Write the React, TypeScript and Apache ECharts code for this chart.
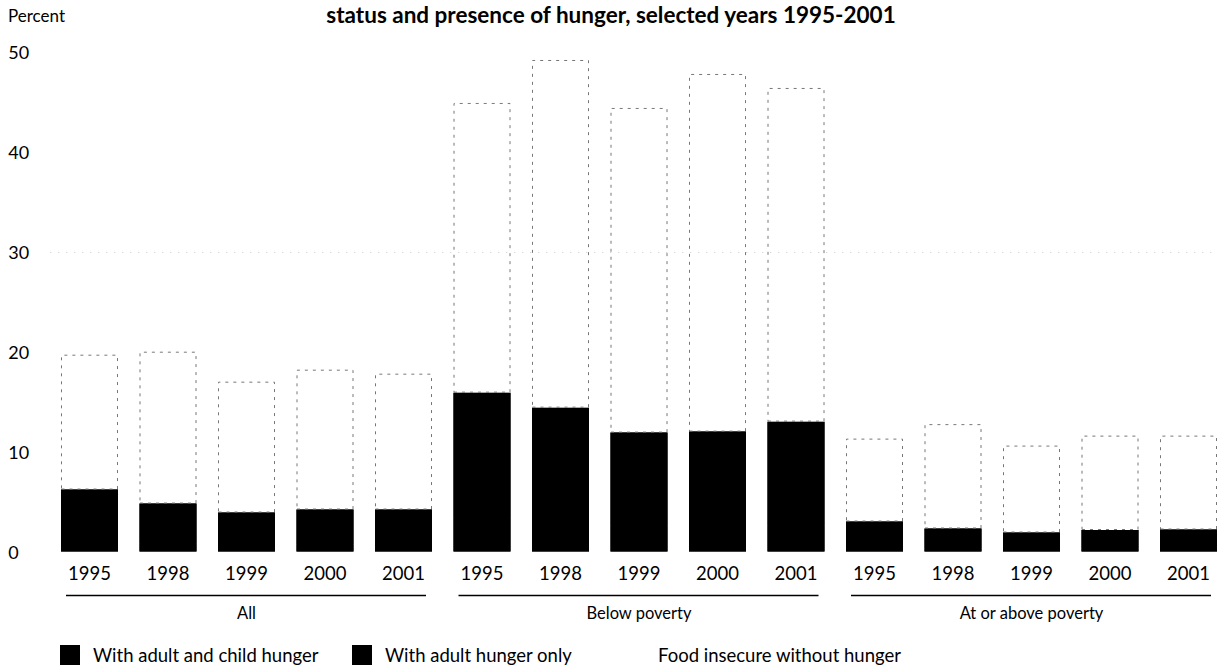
import React, { useEffect, useRef } from "react";
import * as echarts from "echarts";

const groups = ["All", "Below poverty", "At or above poverty"];
const years = ["1995", "1998", "1999", "2000", "2001"];

// Percent of households with children
// black segments: adult and child hunger + adult hunger only (indistinguishable in the scan)
const adultChildHunger = [0.9, 0.8, 0.6, 0.7, 0.6, 3.4, 3.2, 2.6, 2.5, 2.6, 0.4, 0.3, 0.3, 0.3, 0.3];
const adultHungerOnly = [5.3, 4.0, 3.3, 3.5, 3.6, 12.5, 11.2, 9.3, 9.5, 10.4, 2.6, 2.0, 1.6, 1.85, 1.9];
const insecureWithoutHunger = [13.5, 15.2, 13.1, 14.0, 13.6, 29.0, 34.8, 32.5, 35.8, 33.4, 8.3, 10.45, 8.7, 9.45, 9.4];

const yTicks = [0, 10, 20, 30, 40, 50];
const titleText = "status and presence of hunger, selected years 1995-2001";
const legendNames = ["With adult and child hunger", "With adult hunger only", "Food insecure without hunger"];

const FONT = "Lato";

export default function App() {
  const ref = useRef<HTMLDivElement>(null);
  useEffect(() => {
    if (!ref.current) return;
    const chart = echarts.init(ref.current, null, { renderer: "svg" });
    const categories: string[] = [];
    groups.forEach((g) => years.forEach((y) => categories.push(g + "|" + y)));
    const barW = 57;
    // total of the two black (hunger) segments, drawn underneath to hide the seam between them
    const hungerTotal = adultChildHunger.map((v, i) => v + adultHungerOnly[i]);
    const option: any = {
      animation: false,
      backgroundColor: "#fff",
      textStyle: { fontFamily: FONT, color: "#000" },
      grid: { left: 50.25, width: 1177.5, top: 52, bottom: 116.5 },
      xAxis: {
        type: "category",
        data: categories,
        axisLine: { show: false },
        axisTick: { show: false },
        axisLabel: {
          interval: 0,
          margin: 12,
          fontSize: 18.5,
          color: "#000",
          fontFamily: FONT,
          formatter: (v: string) => v.split("|")[1],
        },
      },
      yAxis: {
        type: "value",
        min: yTicks[0],
        max: yTicks[yTicks.length - 1],
        interval: 10,
        axisLine: { show: false },
        axisTick: { show: false },
        splitLine: { show: false },
        axisLabel: { align: "left", margin: 42, fontSize: 18, color: "#000", fontFamily: FONT, padding: [0, 0, 3, 0] },
      },
      legend: [0, 1, 2].map((i) => ({
        data: [
          i === 2
            ? { name: legendNames[i], itemStyle: { color: "#fff", borderWidth: 0 } }
            : { name: legendNames[i], itemStyle: { color: "#000", borderWidth: 0 } },
        ],
        left: [55, 347, 620][i],
        top: 640,
        icon: "rect",
        itemWidth: 20,
        itemHeight: 20,
        selectedMode: false,
        textStyle: { fontSize: 18.5, color: "#000", fontFamily: FONT, padding: [0, 0, 0, 8] },
      })),
      series: [
        {
          name: "hungerTotal",
          type: "bar",
          barWidth: barW,
          barGap: "-100%",
          z: 1,
          silent: true,
          data: hungerTotal,
          itemStyle: { color: "#000" },
          markLine: {
            silent: true,
            symbol: "none",
            label: { show: false },
            lineStyle: { color: "#c8c8c8", type: [1, 7], width: 1 },
            data: [{ yAxis: 30 }],
          },
        },
        {
          name: legendNames[0],
          type: "bar",
          stack: "s",
          barWidth: barW,
          barGap: "-100%",
          z: 2,
          data: adultChildHunger,
          itemStyle: { color: "#000" },
        },
        {
          name: legendNames[1],
          type: "bar",
          stack: "s",
          barWidth: barW,
          barGap: "-100%",
          z: 2,
          data: adultHungerOnly,
          itemStyle: { color: "#000" },
        },
        {
          name: legendNames[2],
          type: "bar",
          stack: "s",
          barWidth: barW,
          barGap: "-100%",
          z: 2,
          data: insecureWithoutHunger,
          itemStyle: { color: "#fff", borderColor: "#777", borderWidth: 1, borderType: [3, 5] },
        },
      ],
    };
    chart.setOption(option);

    const graphics: any[] = [];
    groups.forEach((g, gi) => {
      const first = chart.convertToPixel({ xAxisIndex: 0 }, categories[gi * years.length]) as number;
      const last = chart.convertToPixel({ xAxisIndex: 0 }, categories[gi * years.length + years.length - 1]) as number;
      const x1 = first - barW / 2 + 5;
      const x2 = last + barW / 2 - 6;
      graphics.push({
        type: "line",
        shape: { x1, y1: 595.5, x2, y2: 595.5 },
        style: { stroke: "#000", lineWidth: 1.5 },
      });
      graphics.push({
        type: "text",
        x: (first + last) / 2,
        y: 613,
        style: { text: g, fontSize: 16.5, fill: "#000", fontFamily: FONT, align: "center", verticalAlign: "middle" },
      });
    });
    graphics.push({
      type: "text",
      x: 8,
      y: 15,
      style: { text: "Percent", fontSize: 17, fill: "#000", fontFamily: FONT, align: "left", verticalAlign: "middle" },
    });
    graphics.push({
      type: "text",
      x: 611,
      y: 14,
      style: { text: titleText, fontSize: 22.5, fontWeight: "bold", fill: "#000", fontFamily: FONT, align: "center", verticalAlign: "middle" },
    });
    chart.setOption({ graphic: graphics });
    return () => chart.dispose();
  }, []);
  return (
    <div style={{ position: "fixed", left: 0, top: 0, width: 1218, height: 668, overflow: "hidden", background: "#fff" }}>
      <div ref={ref} style={{ width: 1240, height: 668 }} />
    </div>
  );
}
